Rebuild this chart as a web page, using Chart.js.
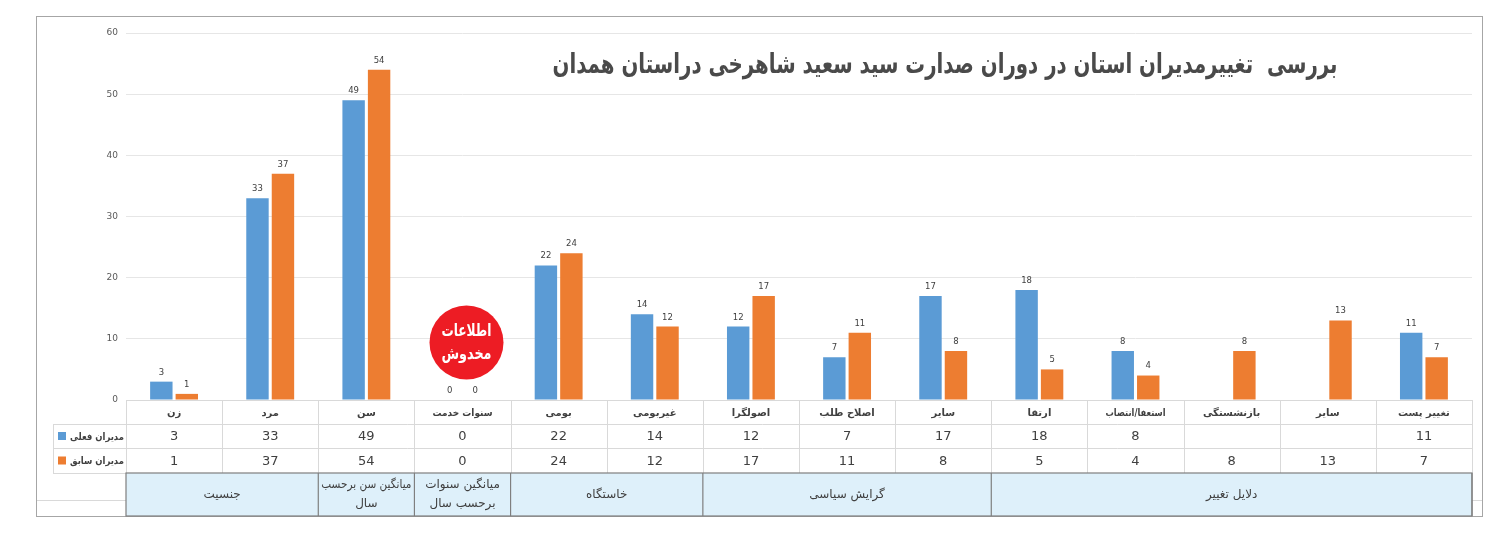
<!DOCTYPE html>
<html>
<head>
<meta charset="utf-8">
<script src="https://cdn.jsdelivr.net/npm/chart.js@4.4.1/dist/chart.umd.min.js"></script>
<style>
  html, body { margin: 0; background: #fff; }
  #wrap { width: 1501px; height: 556px; position: relative; }
</style>
</head>
<body>
<div id="wrap"><canvas id="chart"></canvas></div>
<script>
const title = 'بررسی  تغییرمدیران استان در دوران صدارت سید سعید شاهرخی دراستان همدان';
const categories = ['زن', 'مرد', 'سن', 'سنوات خدمت', 'بومی', 'غیربومی', 'اصولگرا', 'اصلاح طلب', 'سایر', 'ارتقا', 'استعفا/انتصاب', 'بازنشستگی', 'سایر', 'تغییر پست'];
const seriesNames = ['مدیران فعلی', 'مدیران سابق'];
const current = [3, 33, 49, 0, 22, 14, 12, 7, 17, 18, 8, null, null, 11];
const previous = [1, 37, 54, 0, 24, 12, 17, 11, 8, 5, 4, 8, 13, 7];
const yTicks = [0, 10, 20, 30, 40, 50, 60];
const groupLabels = [['جنسیت'], ['میانگین سن برحسب', 'سال'], ['میانگین سنوات', 'برحسب سال'], ['خاستگاه'], ['گرایش سیاسی'], ['دلایل تغییر']];
const groupSpans = [2, 1, 1, 2, 3, 5];
const stampText = ['اطلاعات', 'مخدوش'];
const stampCategory = 3;

const BLUE = '#5B9BD5';
const ORANGE = '#ED7D31';
const TEXT = '#404040';
const FONT = '"DejaVu Sans", sans-serif';

// draw text squeezed horizontally when it is wider than maxW
function fitText(ctx, text, x, y, maxW) {
  const w = ctx.measureText(text).width;
  const k = w > maxW ? maxW / w : 1;
  ctx.save();
  ctx.translate(x, y);
  ctx.scale(k, 1);
  ctx.fillText(text, 0, 0);
  ctx.restore();
}

const frame = {
  id: 'frame',
  beforeDraw(chart) {
    const ctx = chart.ctx;
    ctx.save();
    ctx.fillStyle = '#fff';
    ctx.fillRect(0, 0, chart.width, chart.height);
    ctx.strokeStyle = '#d9d9d9';
    ctx.lineWidth = 1;
    ctx.beginPath();
    ctx.moveTo(36.5, 500.5); ctx.lineTo(1482.5, 500.5);
    ctx.stroke();
    ctx.strokeStyle = '#a6a6a6';
    ctx.strokeRect(36.5, 16.5, 1446, 500);
    ctx.restore();
  },
  afterDraw(chart) {
    const ctx = chart.ctx;
    const area = chart.chartArea;
    const x = chart.scales.x;
    const y = chart.scales.y;
    const n = categories.length;
    const colW = (area.right - area.left) / n;
    const colLeft = i => x.getPixelForValue(i) - colW / 2;
    const rows = [area.bottom, area.bottom + 24, area.bottom + 48, area.bottom + 73];
    const gBottom = rows[3] + 43;

    ctx.save();

    // value labels
    ctx.font = '8.5px ' + FONT;
    ctx.fillStyle = TEXT;
    ctx.textAlign = 'center';
    ctx.textBaseline = 'bottom';
    chart.data.datasets.forEach((ds, di) => {
      chart.getDatasetMeta(di).data.forEach((bar, i) => {
        if (ds.data[i] === null) return;
        ctx.fillText(String(ds.data[i]), bar.x, bar.y - 5);
      });
    });

    // title
    ctx.font = 'bold 27px ' + FONT;
    ctx.fillStyle = '#4a4a4a';
    ctx.textBaseline = 'middle';
    ctx.direction = 'rtl';
    fitText(ctx, title, 945, 66, 785);

    // stamp
    const sx = x.getPixelForValue(stampCategory) + 4;
    const sy = y.getPixelForValue(9.4);
    ctx.beginPath();
    ctx.arc(sx, sy, 37, 0, Math.PI * 2);
    ctx.fillStyle = '#ED1C24';
    ctx.fill();
    ctx.fillStyle = '#fff';
    ctx.font = 'bold 17px ' + FONT;
    fitText(ctx, stampText[0], sx, sy - 11, 50);
    fitText(ctx, stampText[1], sx, sy + 12, 50);

    // data table lines
    ctx.strokeStyle = '#d9d9d9';
    ctx.lineWidth = 1;
    ctx.beginPath();
    ctx.moveTo(area.left, rows[0] + 0.5); ctx.lineTo(area.right, rows[0] + 0.5);
    ctx.moveTo(53, rows[1] + 0.5); ctx.lineTo(area.right, rows[1] + 0.5);
    ctx.moveTo(53, rows[2] + 0.5); ctx.lineTo(area.right, rows[2] + 0.5);
    ctx.moveTo(53, rows[3] + 0.5); ctx.lineTo(area.left, rows[3] + 0.5);
    ctx.moveTo(53.5, rows[1]); ctx.lineTo(53.5, rows[3]);
    for (let i = 0; i <= n; i++) {
      const lx = Math.round(colLeft(i)) + 0.5;
      ctx.moveTo(lx, rows[0]); ctx.lineTo(lx, rows[3]);
    }
    ctx.stroke();

    // header row
    ctx.fillStyle = TEXT;
    ctx.font = 'bold 10px ' + FONT;
    categories.forEach((c, i) => fitText(ctx, c, x.getPixelForValue(i), (rows[0] + rows[1]) / 2 + 1, 60));

    // value rows
    ctx.font = '13px ' + FONT;
    [current, previous].forEach((vals, r) => {
      vals.forEach((v, i) => {
        if (v === null) return;
        ctx.fillText(String(v), x.getPixelForValue(i), (rows[r + 1] + rows[r + 2]) / 2 + 1);
      });
    });

    // legend keys
    [BLUE, ORANGE].forEach((col, r) => {
      const cy = (rows[r + 1] + rows[r + 2]) / 2;
      ctx.fillStyle = col;
      ctx.fillRect(58, cy - 4, 8, 8);
      ctx.fillStyle = TEXT;
      ctx.font = 'bold 10px ' + FONT;
      ctx.textAlign = 'right';
      fitText(ctx, seriesNames[r], 124, cy + 1, 54);
      ctx.textAlign = 'center';
    });

    // group row
    ctx.fillStyle = '#DEF0FA';
    ctx.fillRect(area.left, rows[3], area.right - area.left, gBottom - rows[3]);
    ctx.strokeStyle = '#7f7f7f';
    ctx.lineWidth = 1.2;
    ctx.strokeRect(area.left, rows[3], area.right - area.left, gBottom - rows[3]);
    let start = 0;
    groupSpans.forEach((span, g) => {
      const l = colLeft(start);
      const r = colLeft(start + span);
      ctx.beginPath();
      ctx.moveTo(r, rows[3]); ctx.lineTo(r, gBottom);
      ctx.stroke();
      ctx.fillStyle = TEXT;
      ctx.font = '12px ' + FONT;
      const lines = groupLabels[g];
      const mid = (rows[3] + gBottom) / 2;
      lines.forEach((t, k) => {
        fitText(ctx, t, (l + r) / 2, mid + (k - (lines.length - 1) / 2) * 19, r - l - 6);
      });
      start += span;
    });

    ctx.restore();
  }
};

new Chart(document.getElementById('chart'), {
  type: 'bar',
  data: {
    labels: categories,
    datasets: [
      { label: seriesNames[0], data: current, backgroundColor: BLUE },
      { label: seriesNames[1], data: previous, backgroundColor: ORANGE }
    ]
  },
  options: {
    responsive: true,
    maintainAspectRatio: false,
    animation: false,
    devicePixelRatio: 1,
    layout: { padding: { left: 0, top: 33, right: 29, bottom: 156 } },
    datasets: { bar: { categoryPercentage: 0.53, barPercentage: 0.88 } },
    plugins: { legend: { display: false }, tooltip: { enabled: false } },
    scales: {
      x: { display: false },
      y: {
        min: yTicks[0],
        max: yTicks[yTicks.length - 1],
        afterFit(scale) { scale.width = 126; },
        afterBuildTicks(scale) { scale.ticks = yTicks.map(v => ({ value: v })); },
        border: { display: false },
        grid: { color: '#e6e6e6', drawTicks: false },
        ticks: { color: '#595959', padding: 8, font: { size: 9, family: FONT } }
      }
    }
  },
  plugins: [frame]
});
</script>
</body>
</html>
